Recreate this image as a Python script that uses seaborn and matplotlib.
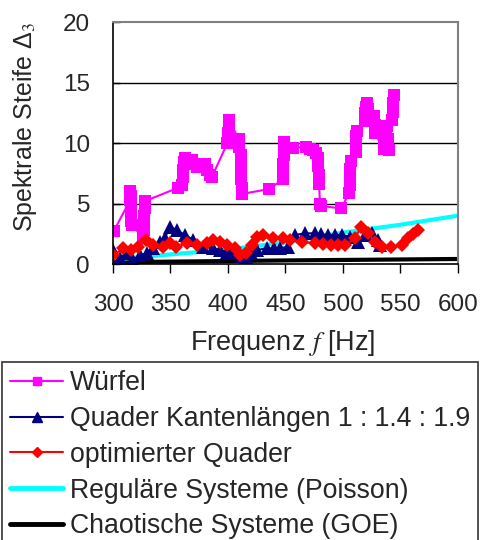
import matplotlib
matplotlib.use("Agg")
import matplotlib.pyplot as plt
import seaborn as sns
from matplotlib.lines import Line2D

# Würfel (cube) - frequency [Hz] and spectral rigidity
wuerfel_f = [300.5, 315.0, 315.2, 315.4, 315.6, 315.8, 316.0, 316.2,
             326.5, 326.8, 327.0, 327.2, 327.4, 327.6, 356.5,
             360.0, 360.5, 361.0, 362.0, 363.0,
             369.0, 371.0, 373.0, 375.0, 377.0,
             380.0, 382.0, 384.0, 386.0,
             399.5, 400.0, 400.5, 401.0, 409.5, 410.0,
             411.0, 411.2, 411.4, 411.6, 411.8, 412.0, 436.0,
             447.5, 448.0, 448.2, 448.4, 448.6, 449.0, 456.5,
             468.0, 471.0, 474.0, 477.0,
             478.5, 478.7, 479.0, 479.3, 480.0, 481.0, 498.5,
             505.5, 506.0, 506.2, 506.5, 506.8,
             511.0, 511.5, 511.8, 512.0,
             519.0, 519.5, 520.0, 521.0, 522.0,
             527.0, 527.5, 528.0,
             535.5, 536.0, 536.5, 538.0, 539.5, 540.0,
             543.0, 543.5, 543.8, 544.0]
wuerfel_d = [2.7, 5.3, 6.0, 5.6, 4.8, 4.2, 3.6, 3.2,
             2.2, 2.8, 3.4, 4.0, 4.6, 5.2, 6.3,
             6.5, 7.2, 7.8, 8.4, 8.8,
             8.6, 8.3, 8.0, 8.2, 8.0,
             8.3, 7.8, 7.4, 7.2,
             10.0, 10.8, 11.5, 11.9, 10.3, 9.7,
             9.0, 8.3, 7.6, 7.0, 6.3, 5.8, 6.2,
             7.0, 7.6, 8.3, 9.0, 9.6, 10.1, 9.6,
             9.7, 9.5, 9.4, 9.2,
             8.8, 8.1, 7.4, 6.6, 5.0, 4.8, 4.6,
             5.9, 6.5, 7.2, 7.9, 8.5,
             9.3, 10.0, 10.6, 11.0,
             11.8, 12.5, 13.0, 13.3, 12.8,
             12.2, 11.5, 10.8,
             9.5, 10.2, 11.0, 11.4, 10.3, 9.4,
             11.9, 12.6, 13.3, 14.0]

# Quader Kantenlängen 1 : 1.4 : 1.9
quader_f = [300, 306, 312, 317.6, 323.5, 329.3, 335, 341, 345, 349.6,
            355.4, 362.6, 369.8, 378.5, 387, 393, 399, 403, 407.6, 412,
            416, 420, 425, 433.6, 440, 445, 452.4, 458, 467, 475.7,
            481, 487, 493, 499, 506, 513, 519, 525, 530.7, 532]
quader_d = [1.16, 0.47, 0.88, 0.33, 0.75, 0.88, 1.3, 1.85, 2.13, 3.1,
            2.8, 2.4, 2.0, 1.43, 1.3, 1.15, 1.0, 0.95, 0.88, 0.7,
            0.6, 0.9, 1.16, 1.3, 1.3, 1.3, 1.43, 2.4, 2.54, 2.54,
            2.45, 2.4, 2.4, 2.4, 2.26, 1.85, 2.4, 2.54, 2.0, 1.57]

# optimierter Quader
opt_f = [300.3, 309, 316, 322, 329, 335, 343.7, 349.6, 355, 364,
         372.8, 381.5, 387, 393, 399, 406, 410.4, 416, 420.6, 425,
         430.7, 439.4, 448, 454, 464, 475.7, 483, 490, 496, 501.7,
         510.4, 516, 522, 527.8, 533.7, 542, 551, 556.8, 561, 565.5]
opt_d = [0.75, 1.3, 1.16, 1.43, 2.0, 1.57, 1.43, 1.7, 1.43, 1.7,
         1.57, 1.7, 2.0, 1.85, 1.57, 1.3, 0.75, 0.88, 1.57, 2.26,
         2.4, 2.13, 2.13, 2.0, 1.85, 1.7, 1.65, 1.57, 1.6, 1.57,
         2.13, 3.1, 2.54, 1.85, 1.43, 1.43, 1.57, 2.13, 2.5, 2.8]

# reference curves
poisson_f = [305, 320, 350, 400, 450, 500, 550, 600]
poisson_d = [0.4, 0.55, 0.8, 1.2, 1.8, 2.6, 3.25, 4.0]
goe_f = [300, 450, 600]
goe_d = [0.15, 0.3, 0.42]

labels = ["Würfel", "Quader Kantenlängen 1 : 1.4 : 1.9", "optimierter Quader",
          "Reguläre Systeme (Poisson)", "Chaotische Systeme (GOE)"]

sns.set_style("white")
plt.rcParams['font.family'] = ['Liberation Sans', 'DejaVu Sans']
plt.rcParams['mathtext.fontset'] = 'stix'

fig = plt.figure(figsize=(4.83, 5.40), dpi=100)
ax = fig.add_axes([0.234, 0.511, 0.714, 0.448])

sns.lineplot(x=goe_f, y=goe_d, ax=ax, color='black', linewidth=3,
             estimator=None, sort=False)
sns.lineplot(x=poisson_f, y=poisson_d, ax=ax, color='#00FFFF', linewidth=3,
             estimator=None, sort=False)
sns.lineplot(x=wuerfel_f, y=wuerfel_d, ax=ax, color='#FF00FF', linewidth=1.5,
             marker='s', markersize=8.5, markeredgewidth=0, estimator=None, sort=False)
sns.lineplot(x=quader_f, y=quader_d, ax=ax, color='#000080', linewidth=1.5,
             marker='^', markersize=9.5, markeredgewidth=0, estimator=None, sort=False)
sns.lineplot(x=opt_f, y=opt_d, ax=ax, color='#FF0000', linewidth=1.5,
             marker='D', markersize=7.5, markeredgewidth=0, estimator=None, sort=False)

ax.set_xlim(300, 600)
ax.set_ylim(0, 20)
ax.set_xticks(range(300, 601, 50))
ax.set_yticks(range(0, 21, 5))
for yv in [5, 10, 15]:
    ax.axhline(yv, color='black', linewidth=1, zorder=0)

ax.tick_params(axis='x', direction='out', length=6.5, width=1, labelsize=17.5, pad=15,
               bottom=True, color='black')
ax.tick_params(axis='y', direction='in', length=5, width=1, labelsize=17.5, pad=16.5,
               left=True, color='black')
for side in ['left', 'bottom']:
    ax.spines[side].set_color('black')
    ax.spines[side].set_linewidth(1.2)
for side in ['top', 'right']:
    ax.spines[side].set_color('#808080')
    ax.spines[side].set_linewidth(1.5)

ax.set_xlabel("Frequenz $f$ [Hz]", fontsize=19.5)
ax.xaxis.label.set_va('center')
ax.xaxis.set_label_coords(0.493, -0.326)
ax.set_ylabel("Spektrale Steife Δ$_3$", fontsize=18)
ax.yaxis.label.set_va('center')
ax.yaxis.set_label_coords(-0.255, 0.566)

handles = [
    Line2D([], [], color='#FF00FF', linewidth=1.5, marker='s', markersize=6),
    Line2D([], [], color='#000080', linewidth=1.5, marker='^', markersize=6.5),
    Line2D([], [], color='#FF0000', linewidth=1.5, marker='D', markersize=5),
    Line2D([], [], color='#00FFFF', linewidth=3.5),
    Line2D([], [], color='black', linewidth=3.5),
]
leg = fig.legend(handles, labels, loc='upper left',
                 bbox_to_anchor=(2 / 483, 1 - 362 / 540),
                 bbox_transform=fig.transFigure, fontsize=19.2,
                 frameon=True, fancybox=False, edgecolor='black',
                 borderaxespad=0, borderpad=0.3, handlelength=2.0,
                 handletextpad=0.25, labelspacing=0.37)
leg.get_frame().set_linewidth(1.2)

fig.savefig("out.png", dpi=100)
